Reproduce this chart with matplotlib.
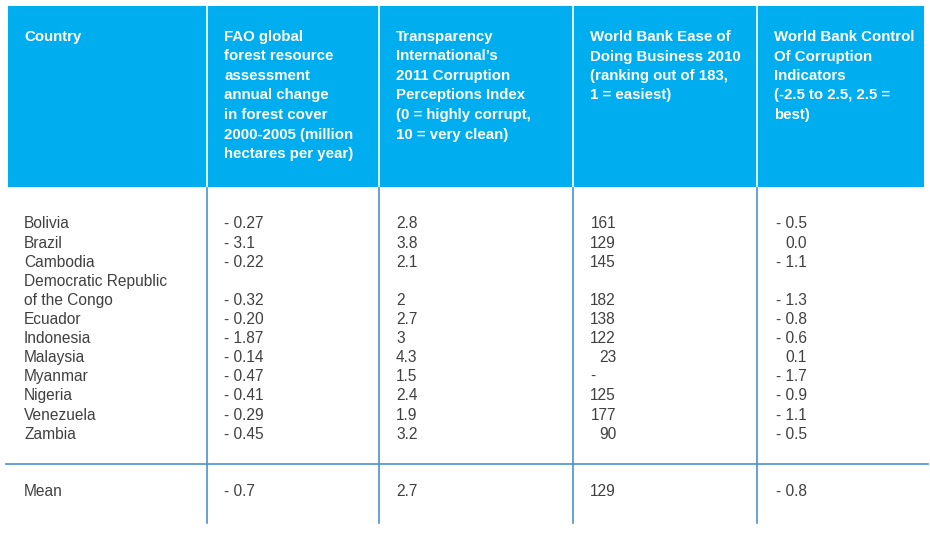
import matplotlib
matplotlib.use('Agg')
import matplotlib.pyplot as plt
from matplotlib.patches import Rectangle

plt.rcParams['font.family'] = ['Liberation Sans', 'DejaVu Sans']

headers = ['Country',
           'FAO global\nforest resource\nassessment\nannual change\nin forest cover\n2000-2005 (million\nhectares per year)',
           'Transparency\nInternational\u2019s\n2011 Corruption\nPerceptions Index\n(0 = highly corrupt,\n10 = very clean)',
           'World Bank Ease of\nDoing Business 2010\n(ranking out of 183,\n1 = easiest)',
           'World Bank Control\nOf Corruption\nIndicators\n(-2.5 to 2.5, 2.5 =\nbest)']

countries = ['Bolivia', 'Brazil', 'Cambodia', 'Democratic Republic\nof the Congo',
             'Ecuador', 'Indonesia', 'Malaysia', 'Myanmar', 'Nigeria',
             'Venezuela', 'Zambia']
forest = ['- 0.27', '- 3.1', '- 0.22', '- 0.32', '- 0.20', '- 1.87',
          '- 0.14', '- 0.47', '- 0.41', '- 0.29', '- 0.45']
cpi = ['2.8', '3.8', '2.1', '2', '2.7', '3', '4.3', '1.5', '2.4', '1.9', '3.2']
doing_biz = ['161', '129', '145', '182', '138', '122', '23', '-', '125', '177', '90']
control = ['- 0.5', '0.0', '- 1.1', '- 1.3', '- 0.8', '- 0.6', '0.1',
           '- 1.7', '- 0.9', '- 1.1', '- 0.5']
mean_row = ['Mean', '- 0.7', '2.7', '129', '- 0.8']

header_blue = '#00aeef'
line_blue = '#4a90cf'
txt = '#404040'
fs = 11.2

fig = plt.figure(figsize=(9.3, 5.33), dpi=100)
ax = fig.add_axes([0, 0, 1, 1])
ax.set_xlim(0, 930)
ax.set_ylim(533, 0)
ax.axis('off')

col_x = [24, 224, 396, 590, 774]
dividers = [207, 379, 573, 757]

# header band
ax.add_patch(Rectangle((8, 6), 916, 181, color=header_blue, lw=0))
for d in dividers:
    ax.plot([d, d], [6, 187], color='white', lw=1.2)
    ax.plot([d, d], [188, 523], color=line_blue, lw=1.2)
ax.plot([6, 928], [464, 464], color=line_blue, lw=1.2)

for x, h in zip(col_x, headers):
    ax.text(x, 30, h, color='white', fontsize=10.8, fontweight='bold',
            va='top', ha='left', linespacing=1.5)

# body rows
y = 224
step = 19.1
for i, c in enumerate(countries):
    if '\n' in c:
        ax.text(col_x[0], y, c.split('\n')[0], color=txt, fontsize=fs, va='center')
        y += step
        ax.text(col_x[0], y, c.split('\n')[1], color=txt, fontsize=fs, va='center')
    else:
        ax.text(col_x[0], y, c, color=txt, fontsize=fs, va='center')
    ax.text(col_x[1], y, forest[i], color=txt, fontsize=fs, va='center')
    ax.text(col_x[2], y, cpi[i], color=txt, fontsize=fs, va='center')
    if doing_biz[i] == '-':
        ax.text(col_x[3], y, doing_biz[i], color=txt, fontsize=fs, va='center')
    else:
        ax.text(616, y, doing_biz[i], color=txt, fontsize=fs, va='center', ha='right')
    ax.text(807, y, control[i], color=txt, fontsize=fs, va='center', ha='right')
    y += step

# mean row
ym = 491
for j, v in enumerate(mean_row):
    if j == 3:
        ax.text(616, ym, v, color=txt, fontsize=fs, va='center', ha='right')
    elif j == 4:
        ax.text(807, ym, v, color=txt, fontsize=fs, va='center', ha='right')
    else:
        ax.text(col_x[j], ym, v, color=txt, fontsize=fs, va='center')

fig.savefig('out.png', dpi=100)
